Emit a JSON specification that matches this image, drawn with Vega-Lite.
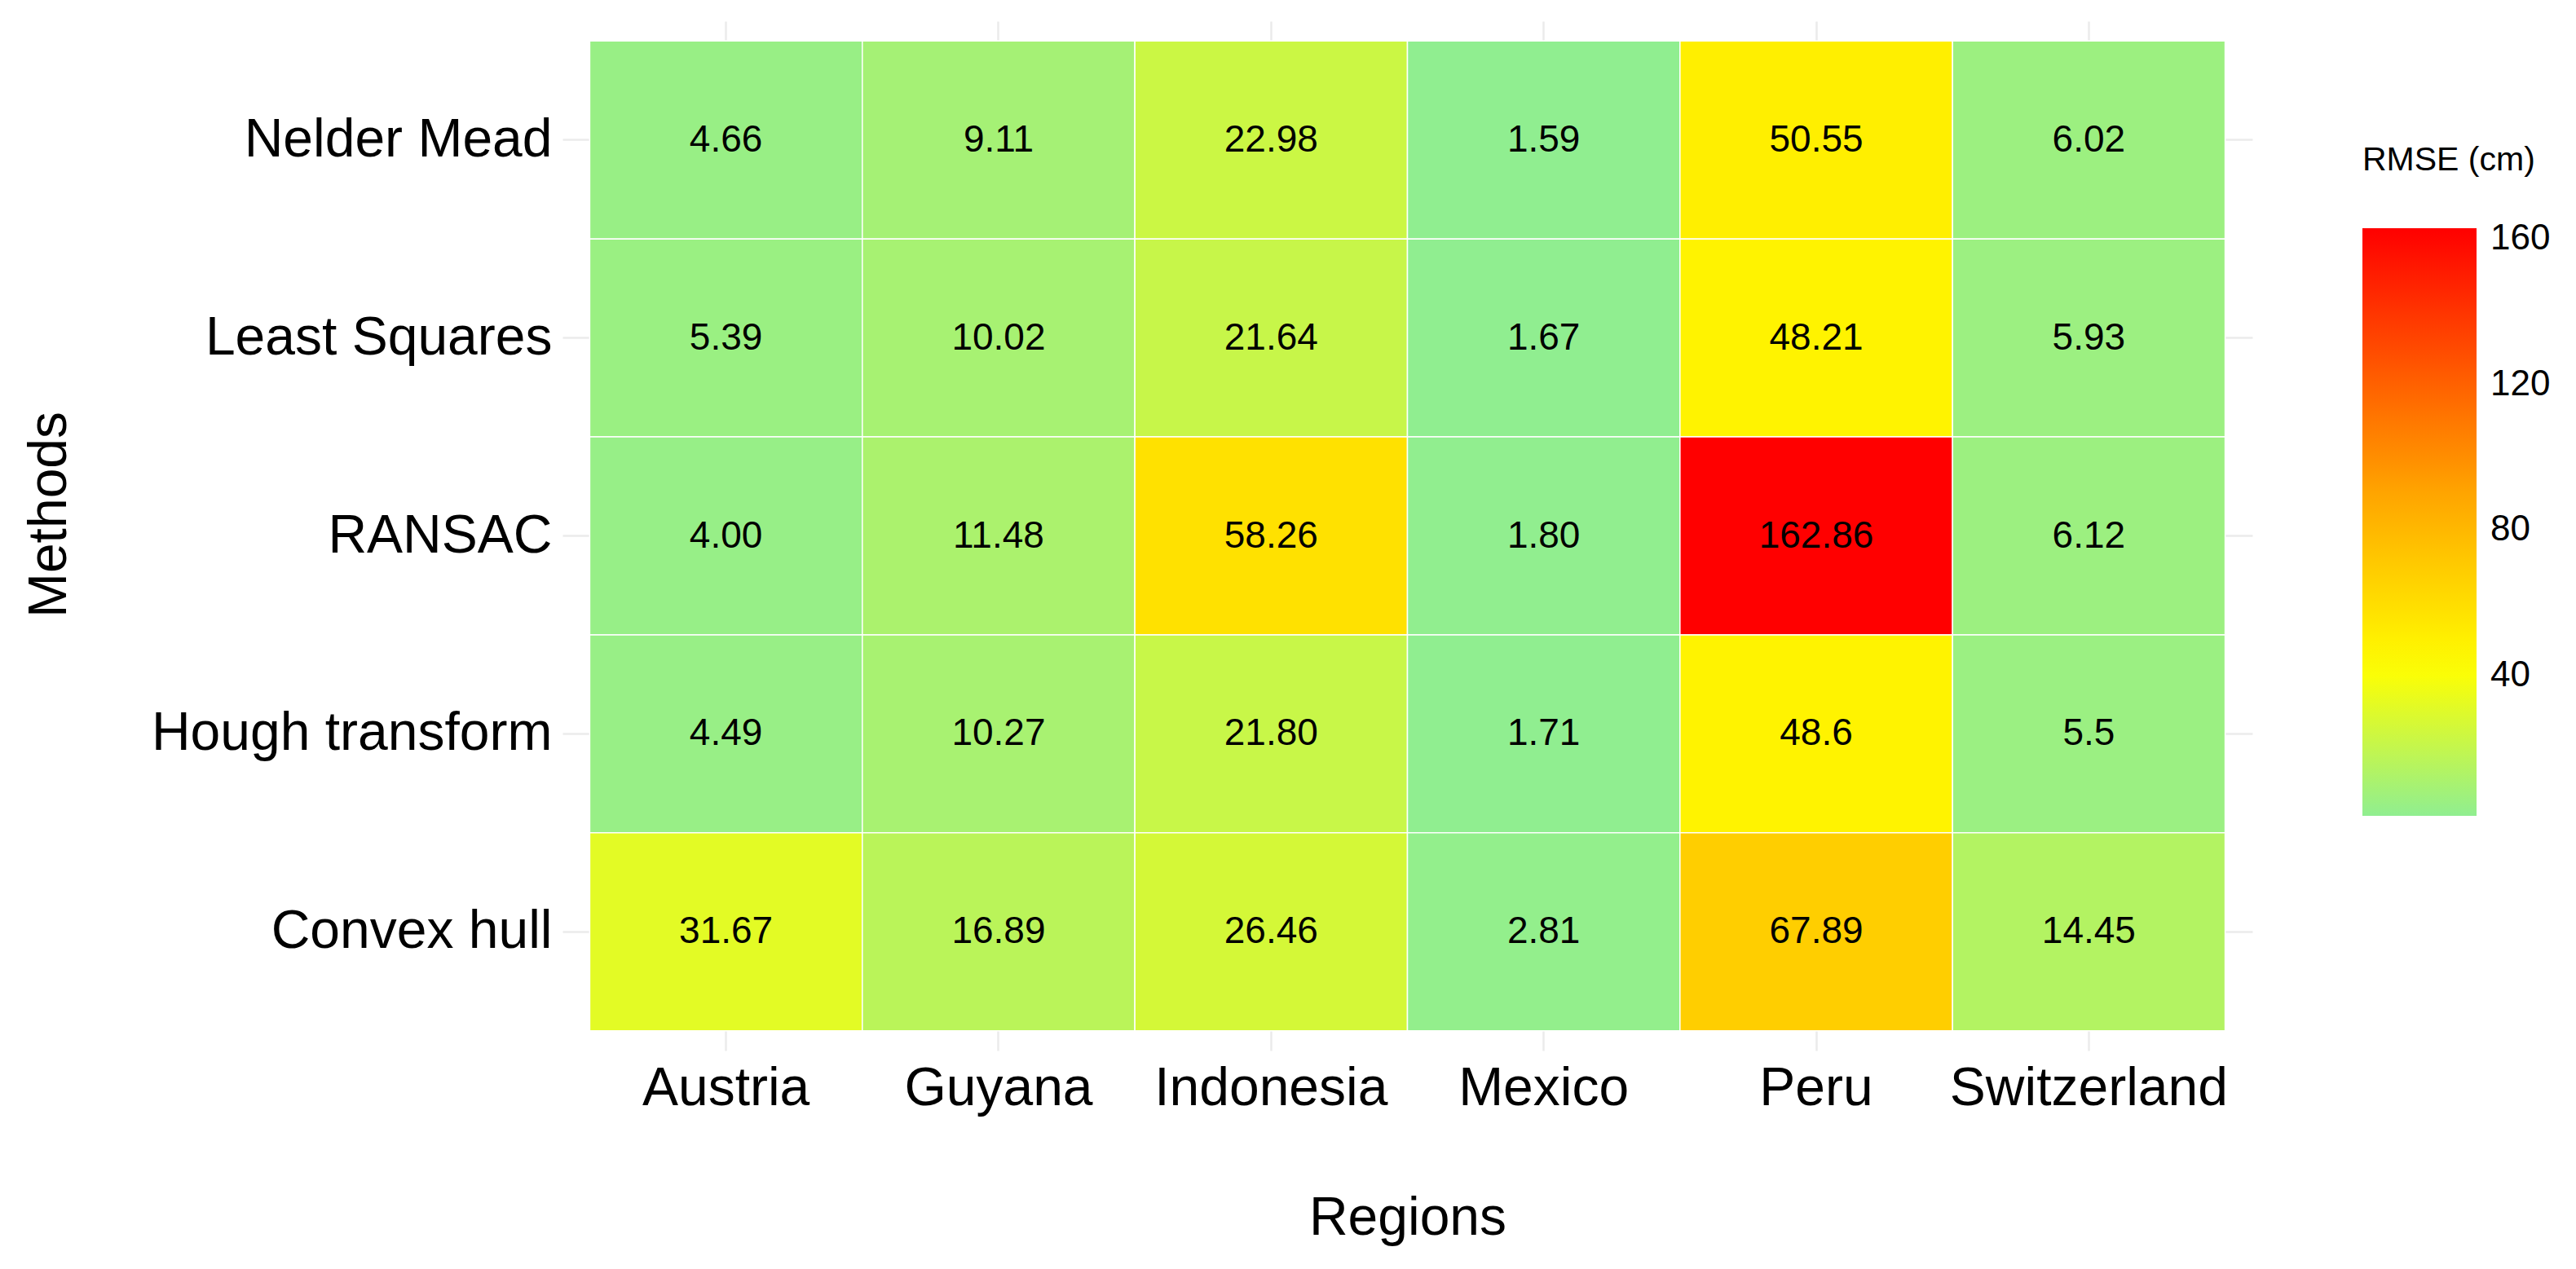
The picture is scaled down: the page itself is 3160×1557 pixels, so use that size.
{
  "$schema": "https://vega.github.io/schema/vega-lite/v6.json",
  "autosize": {"type": "none"},
  "padding": {"left": 690, "top": 26, "right": 397, "bottom": 268},
  "width": 2073,
  "height": 1263,
  "background": "white",
  "config": {
    "font": "Liberation Sans",
    "view": {"stroke": null},
    "axis": {
      "grid": true,
      "gridColor": "#EBEBEB",
      "gridWidth": 2.5,
      "domain": false,
      "ticks": false,
      "zindex": 0,
      "labelFont": "Liberation Sans",
      "titleFont": "Liberation Sans",
      "labelFontSize": 66,
      "titleFontSize": 66,
      "labelLimit": 0,
      "labelColor": "#000000",
      "titleColor": "#000000",
      "titleFontWeight": "normal"
    }
  },
  "data": {
    "values": [
      {"method": "Nelder Mead", "region": "Austria", "rmse": 4.66, "label": "4.66"},
      {"method": "Nelder Mead", "region": "Guyana", "rmse": 9.11, "label": "9.11"},
      {"method": "Nelder Mead", "region": "Indonesia", "rmse": 22.98, "label": "22.98"},
      {"method": "Nelder Mead", "region": "Mexico", "rmse": 1.59, "label": "1.59"},
      {"method": "Nelder Mead", "region": "Peru", "rmse": 50.55, "label": "50.55"},
      {"method": "Nelder Mead", "region": "Switzerland", "rmse": 6.02, "label": "6.02"},
      {"method": "Least Squares", "region": "Austria", "rmse": 5.39, "label": "5.39"},
      {"method": "Least Squares", "region": "Guyana", "rmse": 10.02, "label": "10.02"},
      {"method": "Least Squares", "region": "Indonesia", "rmse": 21.64, "label": "21.64"},
      {"method": "Least Squares", "region": "Mexico", "rmse": 1.67, "label": "1.67"},
      {"method": "Least Squares", "region": "Peru", "rmse": 48.21, "label": "48.21"},
      {"method": "Least Squares", "region": "Switzerland", "rmse": 5.93, "label": "5.93"},
      {"method": "RANSAC", "region": "Austria", "rmse": 4.00, "label": "4.00"},
      {"method": "RANSAC", "region": "Guyana", "rmse": 11.48, "label": "11.48"},
      {"method": "RANSAC", "region": "Indonesia", "rmse": 58.26, "label": "58.26"},
      {"method": "RANSAC", "region": "Mexico", "rmse": 1.80, "label": "1.80"},
      {"method": "RANSAC", "region": "Peru", "rmse": 162.86, "label": "162.86"},
      {"method": "RANSAC", "region": "Switzerland", "rmse": 6.12, "label": "6.12"},
      {"method": "Hough transform", "region": "Austria", "rmse": 4.49, "label": "4.49"},
      {"method": "Hough transform", "region": "Guyana", "rmse": 10.27, "label": "10.27"},
      {"method": "Hough transform", "region": "Indonesia", "rmse": 21.80, "label": "21.80"},
      {"method": "Hough transform", "region": "Mexico", "rmse": 1.71, "label": "1.71"},
      {"method": "Hough transform", "region": "Peru", "rmse": 48.6, "label": "48.6"},
      {"method": "Hough transform", "region": "Switzerland", "rmse": 5.5, "label": "5.5"},
      {"method": "Convex hull", "region": "Austria", "rmse": 31.67, "label": "31.67"},
      {"method": "Convex hull", "region": "Guyana", "rmse": 16.89, "label": "16.89"},
      {"method": "Convex hull", "region": "Indonesia", "rmse": 26.46, "label": "26.46"},
      {"method": "Convex hull", "region": "Mexico", "rmse": 2.81, "label": "2.81"},
      {"method": "Convex hull", "region": "Peru", "rmse": 67.89, "label": "67.89"},
      {"method": "Convex hull", "region": "Switzerland", "rmse": 14.45, "label": "14.45"}
    ]
  },
  "encoding": {
    "x": {
      "field": "region",
      "type": "nominal",
      "sort": ["Austria", "Guyana", "Indonesia", "Mexico", "Peru", "Switzerland"],
      "scale": {"paddingInner": 0, "paddingOuter": 0.1},
      "axis": {"title": "Regions", "labelAngle": 0, "labelPadding": 14, "titlePadding": 94}
    },
    "y": {
      "field": "method",
      "type": "nominal",
      "sort": ["Nelder Mead", "Least Squares", "RANSAC", "Hough transform", "Convex hull"],
      "scale": {"paddingInner": 0, "paddingOuter": 0.1},
      "axis": {"title": "Methods", "labelPadding": 13, "titleX": -630, "titleY": 605, "titleBaseline": "middle", "titleAlign": "center", "titleAngle": -90}
    }
  },
  "layer": [
    {
      "mark": {"type": "rect", "stroke": "white", "strokeWidth": 1.5, "zindex": 1},
      "encoding": {
        "color": {
          "field": "rmse",
          "type": "quantitative",
          "scale": {
            "domain": [1.59, 42, 90, 162.86],
            "range": ["#90EE90", "#FFFF00", "#FFA500", "#FF0000"],
            "interpolate": "rgb"
          },
          "legend": {
            "title": "RMSE (cm)",
            "orient": "none",
            "legendX": 2208,
            "legendY": 151,
            "direction": "vertical",
            "gradientLength": 721,
            "gradientThickness": 140,
            "gradientStrokeWidth": 0,
            "values": [40, 80, 120, 160],
            "titleFont": "Liberation Sans",
            "titleFontSize": 41,
            "titleFontWeight": "normal",
            "titleColor": "#000000",
            "titleLimit": 0,
            "titlePadding": 62,
            "labelFont": "Liberation Sans",
            "labelFontSize": 44,
            "labelColor": "#000000",
            "labelOffset": 17
          }
        }
      }
    },
    {
      "mark": {"type": "text", "fontSize": 46, "color": "#000000", "font": "Liberation Sans", "zindex": 2},
      "encoding": {
        "text": {"field": "label", "type": "nominal"}
      }
    }
  ]
}
